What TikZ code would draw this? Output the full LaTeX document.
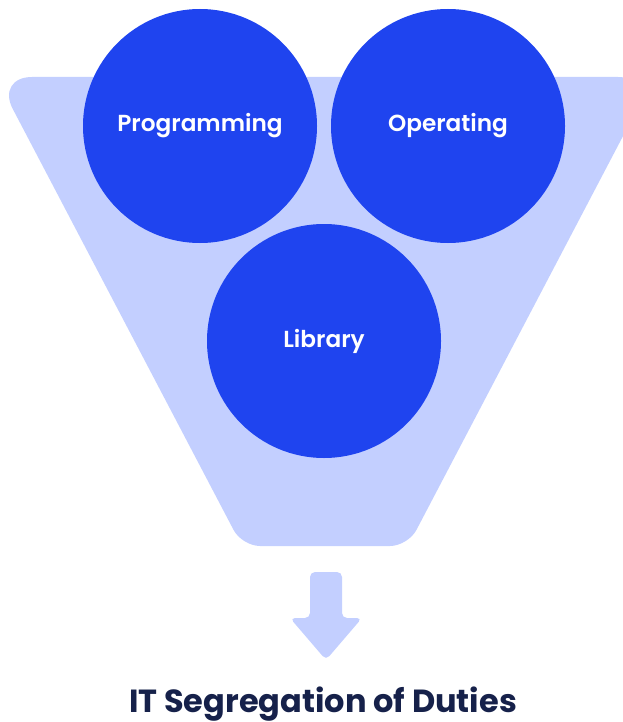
\documentclass[tikz,border=0pt]{standalone}
\usepackage{fontspec}
\setmainfont{Poppins}
\newfontfamily\semib{Poppins}[UprightFont=* SemiBold]
\definecolor{funnelc}{HTML}{C3CFFF}
\definecolor{circc}{HTML}{1F44EF}
\definecolor{titlec}{HTML}{16214A}
\begin{document}
\begin{tikzpicture}[x=1pt,y=-1pt,
  role/.style={circle,fill=circc,minimum size=234pt,inner sep=0pt,text=white,font=\semib\fontsize{23.2}{26}\selectfont},
  funnel/.style={fill=funnelc,draw=none}]
\useasboundingbox (0,0) rectangle (622,722);
\fill[funnelc] (325,546) [rounded corners=18pt] -- (242,546) [rounded corners=36pt] -- (-4,77) -- (654,77) [rounded corners=18pt] -- (408,546) -- cycle;
\node[role] (prog) at (200,126) {Programming};
\node[role] (oper) at (448,126) {Operating};
\node[role] (lib) at (324,341) {Library};
\coordinate (arrowtop) at (326,572);
\coordinate (arrowtip) at (326,660);
\fill[funnelc,rounded corners=5pt] (310,572) -- (342,572) -- (342,618) -- (362,618) -- (326,660) -- (290,618) -- (310,618) -- cycle;
\node[font=\bfseries\fontsize{32}{36}\selectfont,text=titlec,anchor=base] (title) at (323,712) {IT Segregation of Duties};
\end{tikzpicture}
\end{document}
